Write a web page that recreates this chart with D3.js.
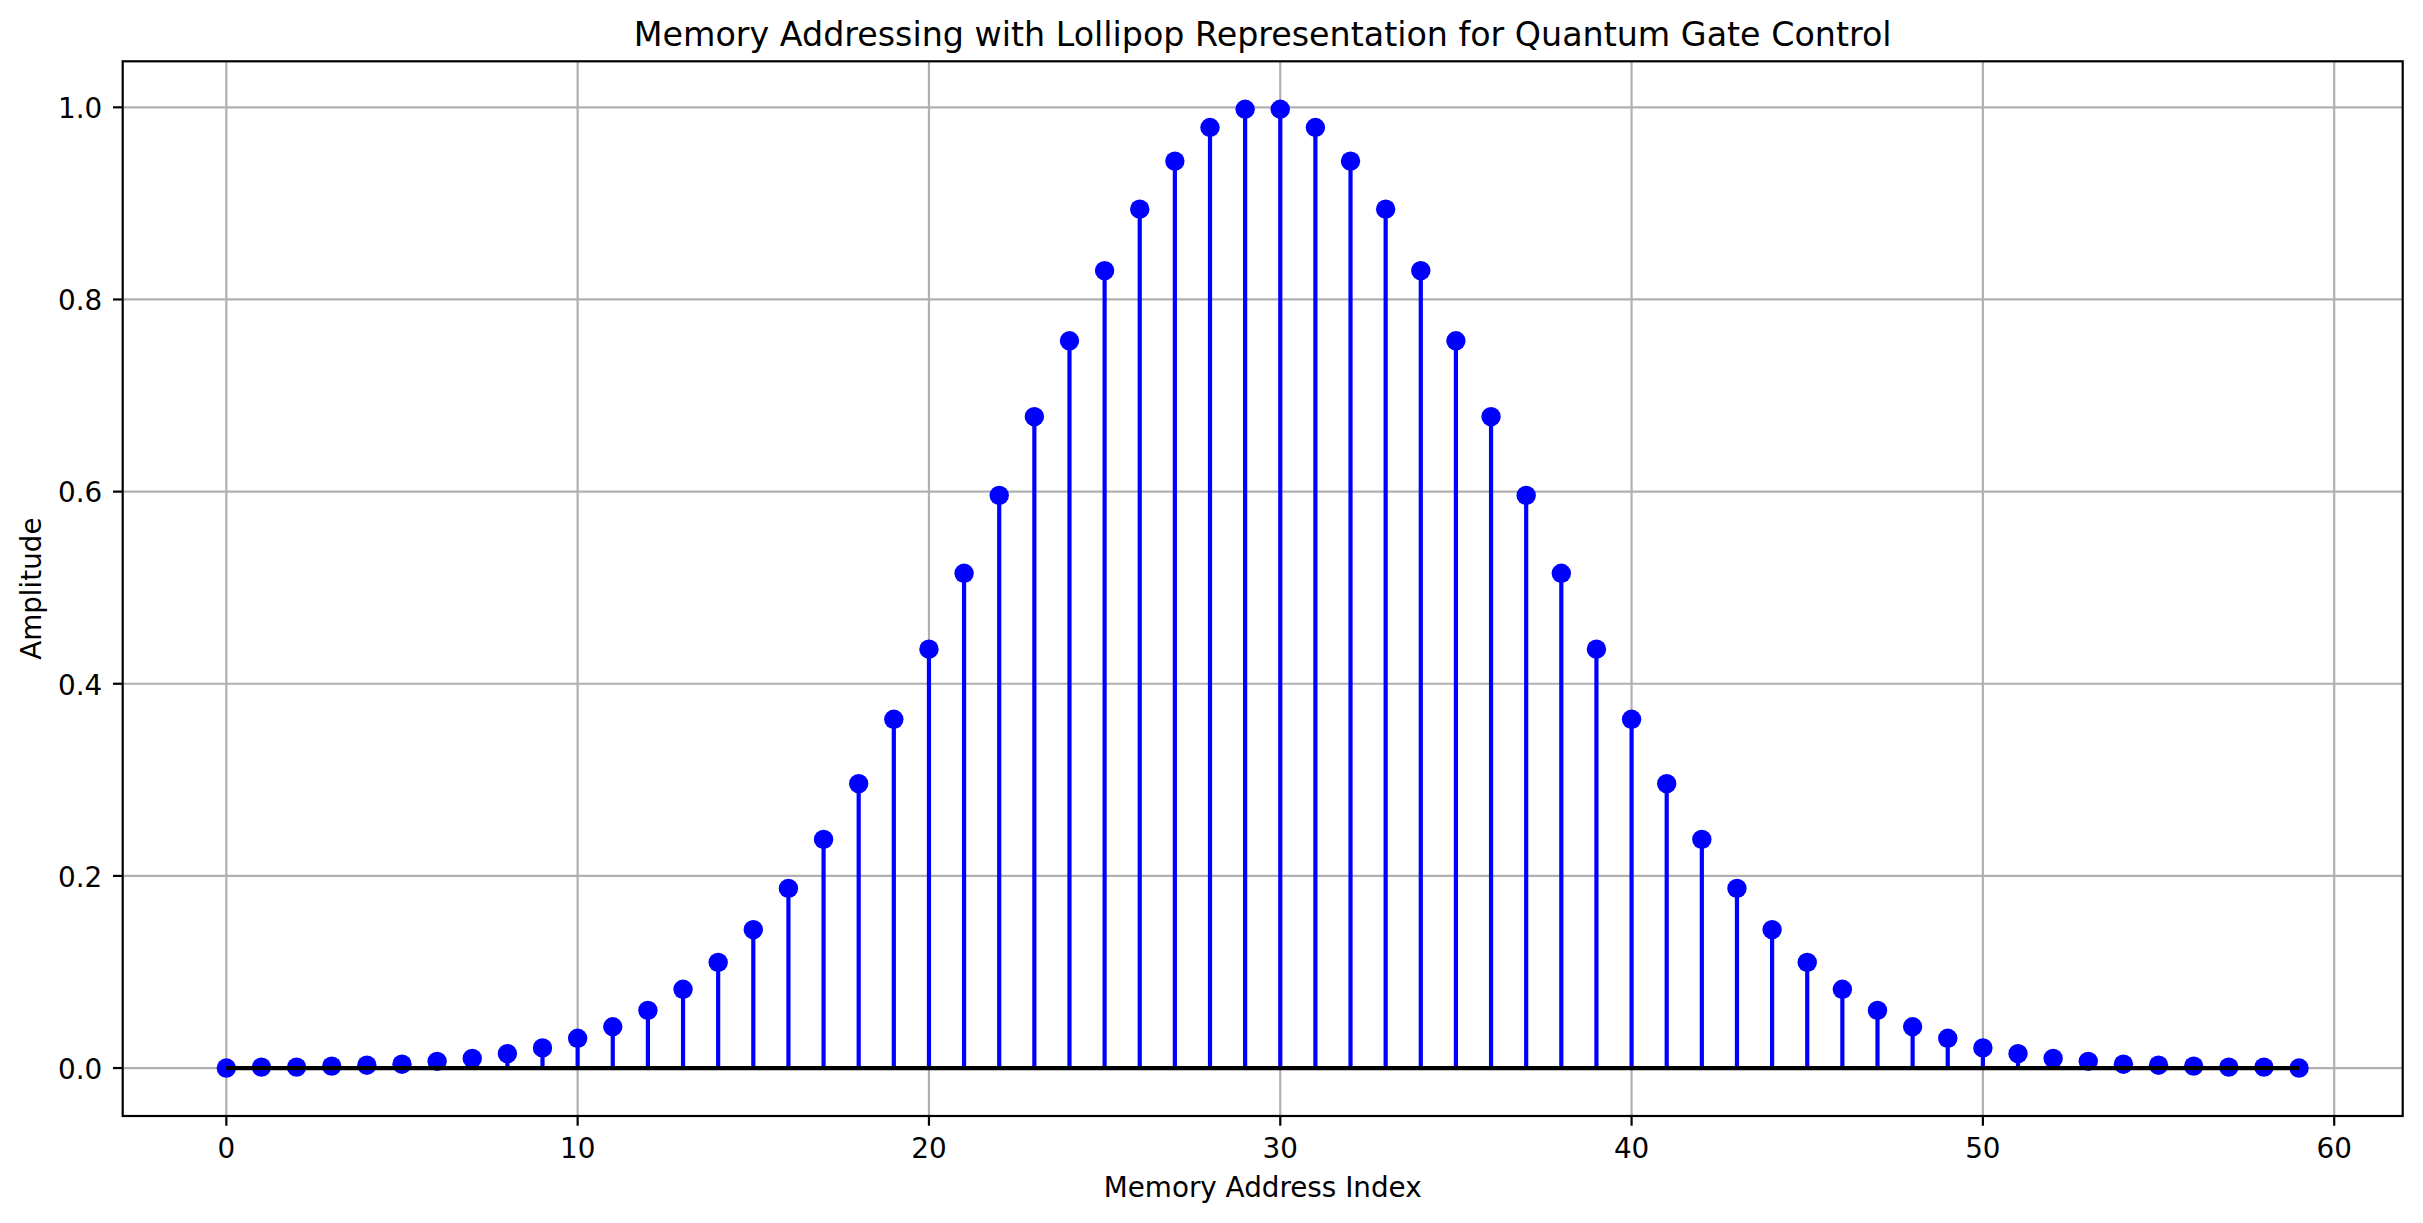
<!DOCTYPE html>
<html>
<head>
<meta charset="utf-8">
<script src="https://cdn.jsdelivr.net/npm/d3@7"></script>
<style>
  html, body { margin: 0; padding: 0; background: #fff; }
  svg { display: block; }
  text { font-family: "DejaVu Sans", sans-serif; fill: #000; }
</style>
</head>
<body>
<svg id="chart" width="2423" height="1223"></svg>
<script>
const chartTitle = "Memory Addressing with Lollipop Representation for Quantum Gate Control";
const xLabel = "Memory Address Index";
const yLabel = "Amplitude";

const addressIndex = d3.range(60);
const amplitude = [
  0.000, 0.001, 0.001, 0.002, 0.003, 0.004, 0.007, 0.010, 0.015, 0.021,
  0.031, 0.043, 0.060, 0.082, 0.110, 0.144, 0.187, 0.238, 0.296, 0.363,
  0.436, 0.515, 0.596, 0.678, 0.757, 0.830, 0.894, 0.944, 0.979, 0.998,
  0.998, 0.979, 0.944, 0.894, 0.830, 0.757, 0.678, 0.596, 0.515, 0.436,
  0.363, 0.296, 0.238, 0.187, 0.144, 0.110, 0.082, 0.060, 0.043, 0.031,
  0.021, 0.015, 0.010, 0.007, 0.004, 0.003, 0.002, 0.001, 0.001, 0.000
];
const xTicks = [0, 10, 20, 30, 40, 50, 60];
const yTicks = [0.0, 0.2, 0.4, 0.6, 0.8, 1.0];

const svg = d3.select("#chart");
const W = 2423, H = 1223;
const plot = { left: 122.7, right: 2402.7, top: 61.3, bottom: 1116 };

svg.append("rect").attr("width", W).attr("height", H).attr("fill", "#fff");

// matplotlib-style 5% margins
const xmin = d3.min(addressIndex), xmax = d3.max(addressIndex);
const xm = (xmax - xmin) * 0.05;
const ymin = Math.min(0, d3.min(amplitude)), ymax = d3.max(amplitude);
const ym = (ymax - ymin) * 0.05;

const x = d3.scaleLinear().domain([xmin - xm, xmax + xm]).range([plot.left, plot.right]);
const y = d3.scaleLinear().domain([ymin - ym, ymax + ym]).range([plot.bottom, plot.top]);

const lw = 4.2, gridW = 2.2, tickLen = 9.7;

// grid
const grid = svg.append("g");
grid.selectAll("line.gx").data(xTicks).enter().append("line")
  .attr("x1", d => x(d)).attr("x2", d => x(d))
  .attr("y1", plot.top).attr("y2", plot.bottom)
  .attr("stroke", "#b0b0b0").attr("stroke-width", gridW);
grid.selectAll("line.gy").data(yTicks).enter().append("line")
  .attr("x1", plot.left).attr("x2", plot.right)
  .attr("y1", d => y(d)).attr("y2", d => y(d))
  .attr("stroke", "#b0b0b0").attr("stroke-width", gridW);

const data = addressIndex.map((d, i) => ({ i: d, v: amplitude[i] }));

// stems
svg.append("g").selectAll("line").data(data).enter().append("line")
  .attr("x1", d => x(d.i)).attr("x2", d => x(d.i))
  .attr("y1", y(0)).attr("y2", d => y(d.v))
  .attr("stroke", "#0000ff").attr("stroke-width", lw);

// markers
svg.append("g").selectAll("circle").data(data).enter().append("circle")
  .attr("cx", d => x(d.i)).attr("cy", d => y(d.v))
  .attr("r", 9.7).attr("fill", "#0000ff");

// baseline
svg.append("line")
  .attr("x1", x(xmin)).attr("x2", x(xmax))
  .attr("y1", y(0)).attr("y2", y(0))
  .attr("stroke", "#000").attr("stroke-width", lw);

// spines
svg.append("rect")
  .attr("x", plot.left).attr("y", plot.top)
  .attr("width", plot.right - plot.left).attr("height", plot.bottom - plot.top)
  .attr("fill", "none").attr("stroke", "#000").attr("stroke-width", gridW);

// x ticks
const xt = svg.append("g");
xt.selectAll("line").data(xTicks).enter().append("line")
  .attr("x1", d => x(d)).attr("x2", d => x(d))
  .attr("y1", plot.bottom).attr("y2", plot.bottom + tickLen)
  .attr("stroke", "#000").attr("stroke-width", gridW);
xt.selectAll("text").data(xTicks).enter().append("text")
  .attr("x", d => x(d)).attr("y", 1158)
  .attr("text-anchor", "middle").attr("font-size", 27.8)
  .text(d => d3.format("d")(d));

// y ticks
const yt = svg.append("g");
yt.selectAll("line").data(yTicks).enter().append("line")
  .attr("x1", plot.left - tickLen).attr("x2", plot.left)
  .attr("y1", d => y(d)).attr("y2", d => y(d))
  .attr("stroke", "#000").attr("stroke-width", gridW);
yt.selectAll("text").data(yTicks).enter().append("text")
  .attr("x", plot.left - tickLen - 9.7 - 1).attr("y", d => y(d) + 10.8)
  .attr("text-anchor", "end").attr("font-size", 27.8)
  .text(d => d3.format(".1f")(d));

// labels
svg.append("text")
  .attr("x", (plot.left + plot.right) / 2).attr("y", 1197.3)
  .attr("text-anchor", "middle").attr("font-size", 27.8)
  .text(xLabel);
svg.append("text")
  .attr("transform", `translate(41,${(plot.top + plot.bottom) / 2}) rotate(-90)`)
  .attr("text-anchor", "middle").attr("font-size", 27.8)
  .text(yLabel);
svg.append("text")
  .attr("x", (plot.left + plot.right) / 2).attr("y", 45.5)
  .attr("text-anchor", "middle").attr("font-size", 33.3)
  .text(chartTitle);
</script>
</body>
</html>
